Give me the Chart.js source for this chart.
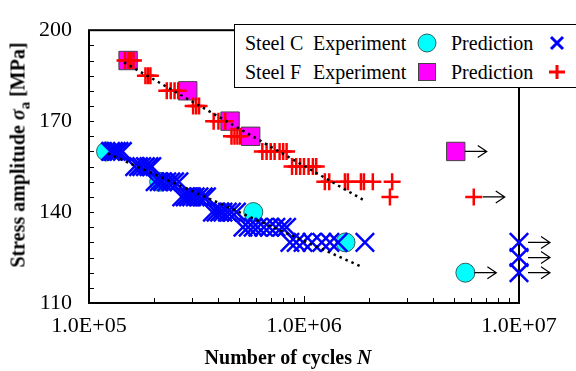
<!DOCTYPE html>
<html>
<head>
<meta charset="utf-8">
<script src="https://cdn.jsdelivr.net/npm/chart.js@4.4.0/dist/chart.umd.min.js"></script>
<style>
  html, body { margin: 0; padding: 0; background: #fff; }
  body { width: 576px; height: 371px; overflow: hidden; position: relative;
         font-family: "Liberation Serif", "Times New Roman", serif; color: #000; }
  #chart { position: absolute; left: 0; top: 0; }
  .ytitle { position: absolute; left: 20px; top: 155px; white-space: nowrap;
            transform: translate(-50%, -50%) rotate(-90deg);
            font-weight: bold; font-size: 20px; }
  .xtitle { position: absolute; left: 288px; top: 357px; white-space: nowrap;
            transform: translate(-50%, -50%); font-weight: bold; font-size: 20px; }
  #legend { position: absolute; left: 234px; top: 24px; width: 345px; height: 62px;
            border: 1.5px solid #000; background: #fff; }
  .lg { position: absolute; font-size: 20px; line-height: 20px; white-space: nowrap; }
  .mk { position: absolute; width: 20px; height: 20px; }
</style>
</head>
<body>
<canvas id="chart" width="576" height="371"></canvas>
<div class="ytitle">Stress amplitude <i>σ</i><sub style="font-size:15px">a</sub> [MPa]</div>
<div class="xtitle">Number of cycles <i>N</i></div>
<div id="legend">
  <span class="lg" style="left:10px; top:8px">Steel C</span>
  <span class="lg" style="left:78px; top:8px">Experiment</span>
  <svg class="mk" style="left:182px; top:8px" viewBox="0 0 20 20"><circle cx="10" cy="10" r="9" fill="#00ffff" stroke="#2f5f5f" stroke-width="1"/></svg>
  <span class="lg" style="left:216px; top:8px">Prediction</span>
  <svg class="mk" style="left:312px; top:8px" viewBox="0 0 20 20"><path d="M4 4 L16 16 M16 4 L4 16" stroke="#0000ff" stroke-width="3"/></svg>

  <span class="lg" style="left:10px; top:37px">Steel F</span>
  <span class="lg" style="left:78px; top:37px">Experiment</span>
  <svg class="mk" style="left:182px; top:37px" viewBox="0 0 20 20"><rect x="1.5" y="1.5" width="17" height="17" fill="#ff00ff" stroke="#444" stroke-width="1"/></svg>
  <span class="lg" style="left:216px; top:37px">Prediction</span>
  <svg class="mk" style="left:312px; top:37px" viewBox="0 0 20 20"><path d="M2 10 L18 10 M10 3 L10 17" stroke="#ff0000" stroke-width="3"/></svg>
</div>
<script>
// axes
const xTickValues = [1e5, 1e6, 1e7];
const yMin = 110, yMax = 200, yStep = 30, yMinorStep = 5;

// Steel C experiment (circles) and run-out
const steelCExpN = [1.2e5, 2.12e5, 5.81e5, 1.56e6];
const steelCExpS = [160, 150, 140, 130];
const steelCExpRunN = [5.63e6];
const steelCExpRunS = [120];

// Steel F experiment (squares) and run-out
const steelFExpN = [1.52e5, 2.88e5, 4.53e5, 5.65e5];
const steelFExpS = [190, 180, 170, 165];
const steelFExpRunN = [5.08e6];
const steelFExpRunS = [160];

// Steel C prediction (x)
const steelCPredN = [
  1.26e5, 1.3e5, 1.34e5, 1.38e5, 1.43e5,
  1.63e5, 1.7e5, 1.76e5, 1.83e5, 1.9e5, 1.96e5,
  2.03e5, 2.12e5, 2.2e5, 2.3e5, 2.4e5, 2.5e5, 2.62e5,
  2.7e5, 2.8e5, 2.9e5, 3.0e5, 3.12e5, 3.25e5, 3.4e5, 3.52e5,
  3.75e5, 3.9e5, 4.05e5, 4.2e5, 4.4e5, 4.6e5, 4.85e5,
  5.2e5, 5.5e5, 5.8e5, 6.1e5, 6.5e5, 6.9e5, 7.4e5, 7.9e5, 8.3e5,
  8.6e5, 9.2e5, 9.9e5, 1.09e6, 1.21e6, 1.32e6, 1.44e6, 1.92e6
];
const steelCPredS = [
  160, 160, 160, 160, 160,
  155, 155, 155, 155, 155, 155,
  150, 150, 150, 150, 150, 150, 150,
  145, 145, 145, 145, 145, 145, 145, 145,
  140, 140, 140, 140, 140, 140, 140,
  135, 135, 135, 135, 135, 135, 135, 135, 135,
  130, 130, 130, 130, 130, 130, 130, 130
];
const steelCPredRunN = [1e7, 1e7, 1e7];
const steelCPredRunS = [130, 125, 120];

// Steel F prediction (+)
const steelFPredN = [
  1.47e5, 1.52e5, 1.56e5, 1.61e5,
  1.83e5, 1.88e5, 1.93e5,
  2.3e5, 2.4e5, 2.5e5, 2.6e5,
  3.05e5, 3.15e5, 3.25e5,
  3.8e5, 4.0e5, 4.3e5,
  4.6e5, 4.75e5, 4.9e5, 5.05e5,
  6.4e5, 6.7e5, 7.0e5, 7.3e5, 7.7e5, 8.0e5, 8.3e5,
  8.8e5, 9.2e5, 9.6e5, 1.0e6, 1.05e6, 1.1e6, 1.14e6,
  1.25e6, 1.31e6, 1.55e6, 1.6e6, 1.84e6, 1.9e6, 2.09e6, 2.57e6,
  2.51e6
];
const steelFPredS = [
  190, 190, 190, 190,
  185, 185, 185,
  180, 180, 180, 180,
  175, 175, 175,
  170, 170, 170,
  165, 165, 165, 165,
  160, 160, 160, 160, 160, 160, 160,
  155, 155, 155, 155, 155, 155, 155,
  150, 150, 150, 150, 150, 150, 150, 150,
  145
];
const steelFPredRunN = [6.16e6];
const steelFPredRunS = [145];

// dotted trend lines
const steelCFitN = [1.226e5, 1.876e6];
const steelCFitS = [159.3, 121.8];
const steelFFitN = [1.455e5, 1.876e6];
const steelFFitS = [189.4, 144.1];

const pts = (ns, ss) => ns.map((n, i) => ({ x: n, y: ss[i] }));

const fmtE = v => {
  const e = Math.round(Math.log10(v));
  return (v / Math.pow(10, e)).toFixed(1) + 'E+' + String(e).padStart(2, '0');
};

const serif = "'Liberation Serif', 'Times New Roman', serif";

// frame and inward ticks
const frameTicks = {
  id: 'frameTicks',
  beforeDatasetsDraw(chart) {
    const { ctx, chartArea: a, scales: { x, y } } = chart;
    ctx.save();
    ctx.strokeStyle = '#000';
    ctx.lineWidth = 1;
    ctx.beginPath();
    for (let v = yMin + yMinorStep; v < yMax; v += yMinorStep) {
      const py = Math.round(y.getPixelForValue(v)) + 0.5;
      ctx.moveTo(a.left, py);
      ctx.lineTo(a.left + 5, py);
    }
    for (let d = xTickValues[0]; d < xTickValues[xTickValues.length - 1]; d *= 10) {
      for (let k = 1; k <= 9; k++) {
        if (k === 1 && d === xTickValues[0]) continue;
        const px = Math.round(x.getPixelForValue(k * d)) + 0.5;
        ctx.moveTo(px, a.bottom);
        ctx.lineTo(px, a.bottom - (k === 1 ? 7 : 5));
      }
    }
    ctx.stroke();
    ctx.lineWidth = 2;
    ctx.strokeRect(a.left, a.top, a.right - a.left, a.bottom - a.top);
    ctx.restore();
  }
};

// run-out arrows
const runoutArrows = {
  id: 'runoutArrows',
  afterDatasetsDraw(chart) {
    const ctx = chart.ctx;
    ctx.save();
    ctx.strokeStyle = '#000';
    ctx.lineWidth = 1.2;
    ctx.beginPath();
    chart.data.datasets.forEach((ds, i) => {
      if (!ds.runout) return;
      chart.getDatasetMeta(i).data.forEach(p => {
        const x0 = p.x + 9, x1 = p.x + 31;
        ctx.moveTo(x0, p.y);
        ctx.lineTo(x1, p.y);
        ctx.moveTo(x1 - 9, p.y - 6);
        ctx.lineTo(x1, p.y);
        ctx.lineTo(x1 - 9, p.y + 6);
      });
    });
    ctx.stroke();
    ctx.restore();
  }
};

const circle = { pointStyle: 'circle', pointRadius: 9.5, backgroundColor: '#00ffff', borderColor: '#2f5f5f', borderWidth: 1 };
const square = { pointStyle: 'rect', pointRadius: 13, backgroundColor: '#ff00ff', borderColor: '#444', borderWidth: 1 };
const xMark = { pointStyle: 'crossRot', pointRadius: 13, borderColor: '#0000ff', borderWidth: 2.5 };
const plus = { pointStyle: 'cross', pointRadius: 8.5, borderColor: '#ff0000', borderWidth: 2.5 };
const dotted = { showLine: true, pointRadius: 0, borderColor: '#000', borderWidth: 2.5, borderDash: [2.5, 4] };

new Chart(document.getElementById('chart'), {
  type: 'scatter',
  data: {
    datasets: [
      { label: 'Steel C Experiment', data: pts(steelCExpN, steelCExpS), order: 6, ...circle },
      { label: 'Steel C Experiment run-out', data: pts(steelCExpRunN, steelCExpRunS), order: 6, runout: true, ...circle },
      { label: 'Steel F Experiment', data: pts(steelFExpN, steelFExpS), order: 5, ...square },
      { label: 'Steel F Experiment run-out', data: pts(steelFExpRunN, steelFExpRunS), order: 5, runout: true, ...square },
      { label: 'Steel C Prediction', data: pts(steelCPredN, steelCPredS), order: 4, ...xMark },
      { label: 'Steel C Prediction run-out', data: pts(steelCPredRunN, steelCPredRunS), order: 4, runout: true, clip: false, ...xMark },
      { label: 'Steel F Prediction', data: pts(steelFPredN, steelFPredS), order: 3, ...plus },
      { label: 'Steel F Prediction run-out', data: pts(steelFPredRunN, steelFPredRunS), order: 3, runout: true, ...plus },
      { label: 'Steel C fit', data: pts(steelCFitN, steelCFitS), order: 1, ...dotted },
      { label: 'Steel F fit', data: pts(steelFFitN, steelFFitS), order: 1, ...dotted }
    ]
  },
  options: {
    responsive: false,
    devicePixelRatio: 1,
    animation: false,
    layout: { padding: { left: 0, top: 18, right: 57, bottom: 0 } },
    plugins: { legend: { display: false }, tooltip: { enabled: false } },
    scales: {
      x: {
        type: 'logarithmic',
        min: xTickValues[0],
        max: xTickValues[xTickValues.length - 1],
        grid: { display: false, drawTicks: false },
        border: { display: false },
        afterBuildTicks: scale => { scale.ticks = xTickValues.map(v => ({ value: v })); },
        afterFit: scale => { scale.height = 68; },
        ticks: {
          autoSkip: false, maxRotation: 0, padding: 10, color: '#000',
          font: { family: serif, size: 22 },
          callback: v => fmtE(v)
        }
      },
      y: {
        min: yMin,
        max: yMax,
        grid: { display: false, drawTicks: false },
        border: { display: false },
        afterFit: scale => { scale.width = 89; },
        ticks: {
          stepSize: yStep, padding: 17, color: '#000',
          font: { family: serif, size: 22 }
        }
      }
    }
  },
  plugins: [frameTicks, runoutArrows]
});
</script>
</body>
</html>
